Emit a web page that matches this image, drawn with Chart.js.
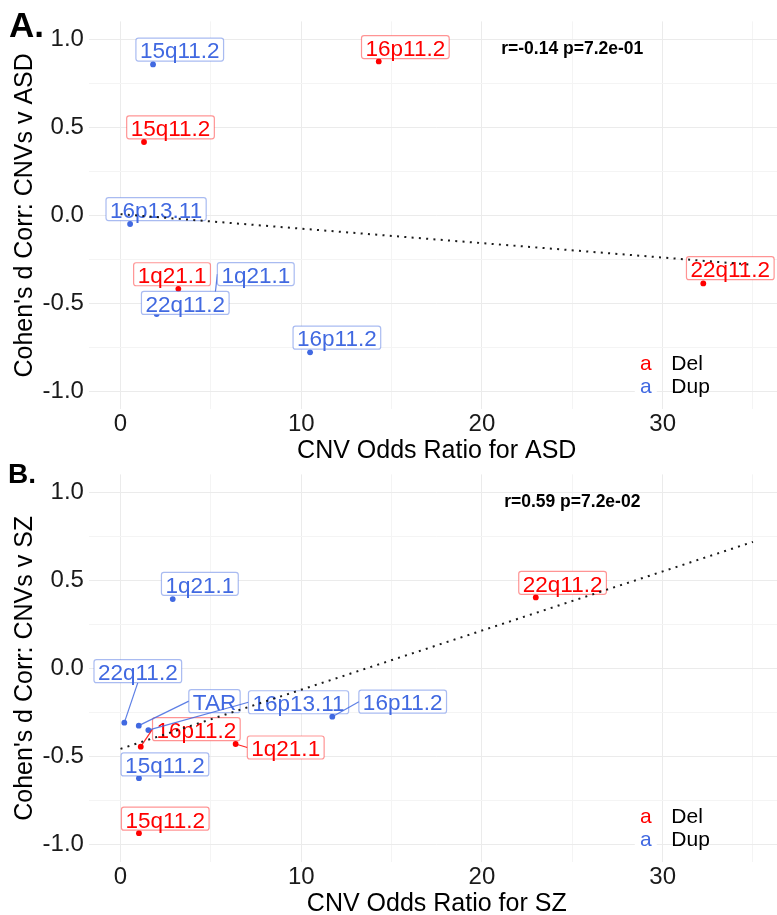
<!DOCTYPE html>
<html>
<head>
<meta charset="utf-8">
<title>CNV odds ratio vs Cohen's d correlation</title>
<script src="https://cdn.jsdelivr.net/npm/chart.js@4.4.1/dist/chart.umd.min.js"></script>
<style>
  html, body { margin: 0; padding: 0; background: #fff; overflow: hidden; width: 777px; height: 915px; }
  canvas.panel { position: absolute; left: 0; }
  #panelA { top: 0; }
  #panelB { top: 453px; }
</style>
</head>
<body>
<canvas id="panelA" class="panel" width="800" height="470"></canvas>
<canvas id="panelB" class="panel" width="800" height="470"></canvas>
<script>
// ---- data ----
const xTickValues = [0, 10, 20, 30];
const yTickValues = [-1.0, -0.5, 0.0, 0.5, 1.0];
const fitRange = [0, 35];
const legendNames = ['Del', 'Dup'];

// A: ASD
const delGenesASD = ['16p11.2', '15q11.2', '1q21.1', '22q11.2'];
const delOddsASD  = [14.29, 1.30, 3.20, 32.25];
const delCorrASD  = [0.873, 0.416, -0.417, -0.386];
const dupGenesASD = ['15q11.2', '16p13.11', '1q21.1', '22q11.2', '16p11.2'];
const dupOddsASD  = [1.80, 0.53, 5.20, 2.00, 10.49];
const dupCorrASD  = [0.856, -0.049, -0.48, -0.56, -0.777];
const statASD = 'r=-0.14 p=7.2e-01';

// B: SZ
const delGenesSZ = ['16p11.2', '1q21.1', '15q11.2', '22q11.2'];
const delOddsSZ  = [1.12, 6.37, 1.02, 22.98];
const delCorrSZ  = [-0.444, -0.429, -0.935, 0.402];
const dupGenesSZ = ['1q21.1', '22q11.2', 'TAR', '16p13.11', '16p11.2', '15q11.2'];
const dupOddsSZ  = [2.89, 0.21, 1.01, 1.54, 11.72, 1.02];
const dupCorrSZ  = [0.393, -0.308, -0.325, -0.35, -0.274, -0.623];
const statSZ = 'r=0.59 p=7.2e-02';

// repelled label placement (pixel offset of label centre from its point)
const delLabelShiftASD = [[26.6, -14.3], [26.5, -14.7], [-6.3, -14.6], [27, -15.2]];
const dupLabelShiftASD = [[26.7, -14.8], [26, -14.9], [41.3, -25.9], [28.6, -11.2], [26.8, -14.7]];
const delLabelShiftSZ  = [[55.6, -17.5], [50.1, 3.5], [26.3, -14.5], [26.8, -14.6]];
const dupLabelShiftSZ  = [[27.1, -15.2], [13.5, -51.5], [75.7, -24.5], [150.2, -27.8], [70.4, -15], [26, -13.8]];

// ---- styles ----
const RED = '#FF0000';
const BLUE = '#4169E1';
const RED_EDGE = 'rgba(255,0,0,0.42)';
const BLUE_EDGE = 'rgba(65,105,225,0.45)';
const GRID_MAJOR = '#EBEBEB';
const GRID_MINOR = '#F4F4F4';
const FONT = "'Liberation Sans', Arial, Helvetica, sans-serif";

Chart.defaults.font.family = FONT;

function linearFit(xs, ys) {
  const n = xs.length;
  const mx = xs.reduce((a, b) => a + b, 0) / n;
  const my = ys.reduce((a, b) => a + b, 0) / n;
  let sxy = 0, sxx = 0;
  for (let i = 0; i < n; i++) {
    sxy += (xs[i] - mx) * (ys[i] - my);
    sxx += (xs[i] - mx) * (xs[i] - mx);
  }
  const slope = sxy / sxx;
  return { slope: slope, intercept: my - slope * mx };
}

function toPoints(xs, ys) {
  return xs.map((x, i) => ({ x: x, y: ys[i] }));
}

function isMajorY(v) {
  return yTickValues.some(t => Math.abs(t - v) < 1e-6);
}

function roundBox(ctx, x, y, w, h, r) {
  ctx.beginPath();
  ctx.moveTo(x + r, y);
  ctx.lineTo(x + w - r, y);
  ctx.arcTo(x + w, y, x + w, y + r, r);
  ctx.lineTo(x + w, y + h - r);
  ctx.arcTo(x + w, y + h, x + w - r, y + h, r);
  ctx.lineTo(x + r, y + h);
  ctx.arcTo(x, y + h, x, y + h - r, r);
  ctx.lineTo(x, y + r);
  ctx.arcTo(x, y, x + r, y, r);
  ctx.closePath();
}

// segment anchor: middle of the box side that faces the point
function boxAnchor(cx, cy, w, h, px, py) {
  const dx = px - cx, dy = py - cy;
  if (Math.abs(dx) <= w / 2 && Math.abs(dy) <= h / 2) return null;
  if (Math.abs(dx) > Math.abs(dy)) return [cx + Math.sign(dx) * w / 2, cy];
  return [cx, cy + Math.sign(dy) * h / 2];
}

function distToBox(cx, cy, w, h, px, py) {
  const ox = Math.max(0, Math.abs(px - cx) - w / 2);
  const oy = Math.max(0, Math.abs(py - cy) - h / 2);
  return Math.hypot(ox, oy);
}

function drawLabels(chart, genes, odds, corr, shifts, color, edge) {
  const ctx = chart.ctx;
  const xs = chart.scales.x, ys = chart.scales.y;
  ctx.save();
  ctx.font = '22.5px ' + FONT;
  genes.forEach((g, i) => {
    const px = xs.getPixelForValue(odds[i]);
    const py = ys.getPixelForValue(corr[i]);
    const cx = px + shifts[i][0], cy = py + shifts[i][1];
    const w = ctx.measureText(g).width + 8, h = 23;
    const anchor = boxAnchor(cx, cy, w, h, px, py);
    if (anchor && distToBox(cx, cy, w, h, px, py) > 8) {
      ctx.strokeStyle = color;
      ctx.globalAlpha = 0.85;
      ctx.lineWidth = 1.2;
      ctx.beginPath();
      ctx.moveTo(anchor[0], anchor[1]);
      ctx.lineTo(px, py);
      ctx.stroke();
      ctx.globalAlpha = 1;
    }
    roundBox(ctx, cx - w / 2, cy - h / 2, w, h, 2.5);
    ctx.fillStyle = '#fff';
    ctx.fill();
    ctx.strokeStyle = edge;
    ctx.lineWidth = 1.2;
    ctx.stroke();
    ctx.fillStyle = color;
    ctx.textAlign = 'center';
    ctx.textBaseline = 'alphabetic';
    ctx.fillText(g, cx, cy + 8.8);
  });
  ctx.restore();
}

function buildPanel(id, p) {
  const fit = linearFit(p.delOdds.concat(p.dupOdds), p.delCorr.concat(p.dupCorr));
  const fitLine = fitRange.map(x => ({ x: x, y: fit.intercept + fit.slope * x }));

  const decor = {
    id: 'decor',
    beforeDatasetDraw(chart, args) {
      // labels sit above the points but under the fit line
      if (args.index !== 2) return;
      drawLabels(chart, p.delGenes, p.delOdds, p.delCorr, p.delShift, RED, RED_EDGE);
      drawLabels(chart, p.dupGenes, p.dupOdds, p.dupCorr, p.dupShift, BLUE, BLUE_EDGE);
    },
    afterDraw(chart) {
      const ctx = chart.ctx;
      const area = chart.chartArea;
      const xs = chart.scales.x, ys = chart.scales.y;
      ctx.save();
      // stats
      ctx.font = 'bold 17.5px ' + FONT;
      ctx.fillStyle = '#000';
      ctx.textAlign = 'center';
      ctx.textBaseline = 'alphabetic';
      ctx.fillText(p.stat, xs.getPixelForValue(25), ys.getPixelForValue(0.95) + 6.3);
      // legend
      const keyX = area.left + 556.9;
      const rows = [[legendNames[0], RED, area.bottom - 39.8], [legendNames[1], BLUE, area.bottom - 16.3]];
      rows.forEach(r => {
        ctx.fillStyle = '#fff';
        ctx.fillRect(keyX - 11, r[2] - 19, 22, 23.5);
      });
      ctx.font = '21px ' + FONT;
      rows.forEach(r => {
        ctx.textAlign = 'center';
        ctx.fillStyle = r[1];
        ctx.fillText('a', keyX, r[2]);
        ctx.textAlign = 'left';
        ctx.fillStyle = '#000';
        ctx.fillText(r[0], keyX + 25.5, r[2]);
      });
      // panel tag
      ctx.font = 'bold ' + p.tagSize + 'px ' + FONT;
      ctx.textAlign = 'left';
      ctx.fillText(p.tag, p.tagX, p.tagBase);
      ctx.restore();
    }
  };

  return new Chart(document.getElementById(id), {
    type: 'scatter',
    data: {
      datasets: [
        { label: legendNames[0], data: toPoints(p.delOdds, p.delCorr), backgroundColor: RED,
          pointRadius: 2.9, pointBorderWidth: 0, order: 2 },
        { label: legendNames[1], data: toPoints(p.dupOdds, p.dupCorr), backgroundColor: BLUE,
          pointRadius: 2.9, pointBorderWidth: 0, order: 1 },
        { type: 'line', label: 'fit', data: fitLine, borderColor: '#1a1a1a', borderWidth: 2,
          borderDash: [2, 5.3], pointRadius: 0, fill: false, order: 0 }
      ]
    },
    options: {
      responsive: false,
      animation: false,
      layout: { padding: { top: 21.4, right: 15.4, left: 0, bottom: 0 } },
      plugins: { legend: { display: false }, tooltip: { enabled: false } },
      scales: {
        x: {
          type: 'linear', min: -1.75, max: 36.75,
          afterFit(scale) { scale.height = 60.7; },
          border: { display: false },
          grid: {
            drawTicks: false, lineWidth: 1,
            color: c => xTickValues.includes(c.tick.value) ? GRID_MAJOR : GRID_MINOR
          },
          ticks: {
            stepSize: 5, includeBounds: false, autoSkip: false, maxRotation: 0, padding: 1,
            color: '#1a1a1a', font: { size: 24 },
            callback: v => xTickValues.includes(v) ? String(v) : ''
          },
          title: {
            display: true, text: p.xTitle, color: '#000', font: { size: 25 },
            padding: { top: 0, bottom: 4.2 }
          }
        },
        y: {
          type: 'linear', min: -1.1, max: 1.1,
          afterFit(scale) { scale.width = 88.9; },
          border: { display: false },
          grid: {
            drawTicks: false, lineWidth: 1,
            color: c => isMajorY(c.tick.value) ? GRID_MAJOR : GRID_MINOR
          },
          ticks: {
            stepSize: 0.25, includeBounds: false, autoSkip: false, padding: 5,
            color: '#1a1a1a', font: { size: 24 },
            callback: v => isMajorY(v) ? v.toFixed(1) : ''
          },
          title: {
            display: true, text: p.yTitle, color: '#000', font: { size: 25 },
            padding: { top: 10.4, bottom: 0 }
          }
        }
      }
    },
    plugins: [decor]
  });
}

buildPanel('panelA', {
  delGenes: delGenesASD, delOdds: delOddsASD, delCorr: delCorrASD, delShift: delLabelShiftASD,
  dupGenes: dupGenesASD, dupOdds: dupOddsASD, dupCorr: dupCorrASD, dupShift: dupLabelShiftASD,
  stat: statASD, xTitle: 'CNV Odds Ratio for ASD', yTitle: "Cohen's d Corr: CNVs v ASD",
  tag: 'A.', tagSize: 35, tagX: 9, tagBase: 37
});

buildPanel('panelB', {
  delGenes: delGenesSZ, delOdds: delOddsSZ, delCorr: delCorrSZ, delShift: delLabelShiftSZ,
  dupGenes: dupGenesSZ, dupOdds: dupOddsSZ, dupCorr: dupCorrSZ, dupShift: dupLabelShiftSZ,
  stat: statSZ, xTitle: 'CNV Odds Ratio for SZ', yTitle: "Cohen's d Corr: CNVs v SZ",
  tag: 'B.', tagSize: 28, tagX: 8, tagBase: 30
});
</script>
</body>
</html>
